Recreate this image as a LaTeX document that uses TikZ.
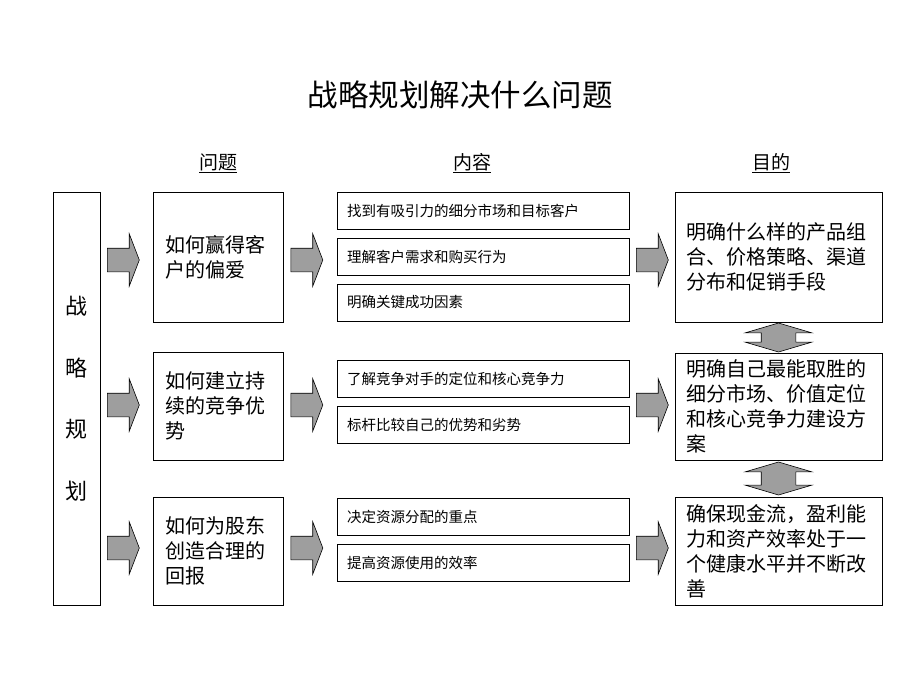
\documentclass[tikz,border=0pt]{standalone}
\usepackage{fontspec}
\newfontfamily\cjk{Noto Sans CJK SC}
\usetikzlibrary{shapes.arrows,calc}

\begin{document}
\begin{tikzpicture}[x=1pt,y=-1pt,
  box/.style={draw=black,line width=0.8pt,inner sep=0pt,align=left,
    font=\cjk\fontsize{20}{25}\selectfont},
  itembox/.style={draw=black,line width=0.8pt,inner sep=0pt,align=left,
    minimum width=292pt,minimum height=37pt,text width=272pt,
    font=\cjk\fontsize{14.5}{17}\selectfont},
  head/.style={font=\cjk\fontsize{19}{22}\selectfont},
  fatarrow/.style={single arrow,draw=black,fill=black!38,line width=0.6pt,
    inner xsep=0pt,inner ysep=11.5pt,anchor=tail,minimum height=32pt,
    single arrow head extend=14.5pt,single arrow tip angle=138},
  twoway/.style={double arrow,draw=black,fill=black!38,line width=0.6pt,
    inner xsep=0pt,inner ysep=17pt,rotate=90,
    double arrow head extend=16pt,double arrow tip angle=147}]

  \useasboundingbox (0,0) rectangle (920,690);

  \pgfmathsetmacro\qx{218}    % column of questions
  \pgfmathsetmacro\cx{483}    % column of contents
  \pgfmathsetmacro\gx{778.5}  % column of goals

% title and column heads
  \node[font=\cjk\fontsize{30.5}{33}\selectfont] (title) at (460,95) {战略规划解决什么问题};
  \node[head] (hq) at (\qx,163) {\underline{问题}};
  \node[head] (hc) at (472,163) {\underline{内容}};
  \node[head] (hg) at (771,163) {\underline{目的}};

% strategy box at left
  \node[draw=black,line width=0.8pt,minimum width=47pt,minimum height=413pt,
    align=center,font=\cjk\fontsize{22}{61.5}\selectfont] (plan) at (76.5,398.5)
    {战\\略\\规\\划};

% questions
  \node[box,minimum width=130pt,minimum height=130pt,text width=106pt] (q1) at (\qx,257)
    {如何赢得客\\户的偏爱};
  \node[box,minimum width=130pt,minimum height=108pt,text width=106pt] (q2) at (\qx,406)
    {如何建立持\\续的竞争优\\势};
  \node[box,minimum width=130pt,minimum height=108pt,text width=106pt] (q3) at (\qx,551)
    {如何为股东\\创造合理的\\回报};

% contents
  \node[itembox] (c1) at (\cx,210.5) {找到有吸引力的细分市场和目标客户};
  \node[itembox] (c2) at (\cx,256.5) {理解客户需求和购买行为};
  \node[itembox] (c3) at (\cx,302.5) {明确关键成功因素};
  \node[itembox] (c4) at (\cx,378.5) {了解竞争对手的定位和核心竞争力};
  \node[itembox] (c5) at (\cx,424.5) {标杆比较自己的优势和劣势};
  \node[itembox] (c6) at (\cx,516.5) {决定资源分配的重点};
  \node[itembox] (c7) at (\cx,562.5) {提高资源使用的效率};

% goals
  \node[box,minimum width=207pt,minimum height=130pt,text width=185pt] (g1) at (\gx,257)
    {明确什么样的产品组\\合、价格策略、渠道\\分布和促销手段};
  \node[box,minimum width=207pt,minimum height=107pt,text width=185pt] (g2) at (\gx,406.5)
    {明确自己最能取胜的\\细分市场、价值定位\\和核心竞争力建设方\\案};
  \node[box,minimum width=207pt,minimum height=108pt,text width=185pt] (g3) at (\gx,551)
    {确保现金流，盈利能\\力和资产效率处于一\\个健康水平并不断改\\善};

% block arrows
  \node[fatarrow] (a1) at (107,260) {};
  \node[fatarrow] (a2) at (107,405) {};
  \node[fatarrow] (a3) at (107,548) {};
  \node[fatarrow] (b1) at (290.5,260) {};
  \node[fatarrow] (b2) at (290.5,405) {};
  \node[fatarrow] (b3) at (290.5,548) {};
  \node[fatarrow] (d1) at (636,260) {};
  \node[fatarrow] (d2) at (636,405) {};
  \node[fatarrow] (d3) at (636,548) {};

% links between goals
  \node[twoway,minimum height=29pt] (l12) at ($(g1.south)!0.5!(g2.north)$) {};
  \node[twoway,minimum height=33pt] (l23) at ($(g2.south)!0.5!(g3.north)$) {};

\end{tikzpicture}
\end{document}
